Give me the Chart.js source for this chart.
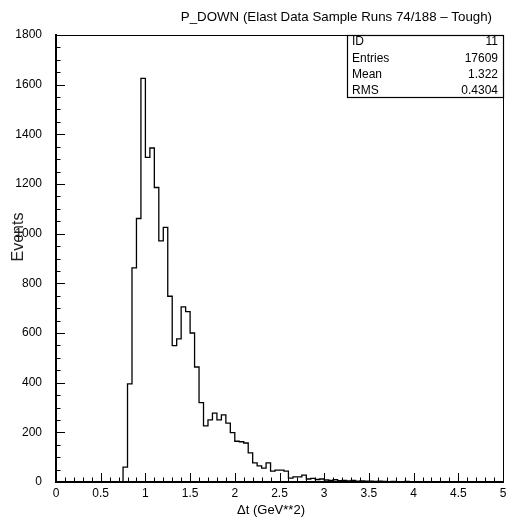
<!DOCTYPE html>
<html>
<head>
<meta charset="utf-8">
<script src="https://cdn.jsdelivr.net/npm/chart.js@4/dist/chart.umd.min.js"></script>
<style>
  html, body { margin: 0; padding: 0; background: #fff; }
  canvas { display: block; }
</style>
</head>
<body>
<canvas id="histo" width="506" height="519"></canvas>
<script>
// histogramme P_DOWN : 100 bins de 0.05 entre 0 et 5
const xMin = 0;
const xMax = 5;
const binWidth = 0.05;
const counts = [
  0, 0, 0, 0, 0, 0, 0, 0, 0, 0,            // 0.00 - 0.45
  0, 0, 0, 0, 0, 60, 395, 862, 1061, 1625, // 0.50 - 0.95
  1307, 1345, 1186, 971, 1025, 748, 549, 576, 705, 686,   // 1.00 - 1.45
  600, 463, 320, 226, 250, 277, 250, 270, 237, 199,       // 1.50 - 1.95
  164, 162, 157, 117, 77, 65, 56, 77, 44, 48,             // 2.00 - 2.45
  48, 44, 16, 21, 21, 28, 12, 15, 10, 12,                 // 2.50 - 2.95
  8, 6, 9, 5, 6, 4, 6, 3, 4, 3,                           // 3.00 - 3.45
  3, 2, 3, 2, 1, 2, 1, 1, 2, 1,                           // 3.50 - 3.95
  1, 0, 1, 1, 0, 1, 0, 0, 1, 0,                           // 4.00 - 4.45
  0, 1, 0, 0, 0, 0, 1, 0, 0, 0                            // 4.50 - 4.95
];
const yTicks = [0, 200, 400, 600, 800, 1000, 1200, 1400, 1600, 1800];
const xTicks = [0, 0.5, 1, 1.5, 2, 2.5, 3, 3.5, 4, 4.5, 5];

const titre = "P_DOWN (Elast Data Sample Runs 74/188 \u2013 Tough)";
const xTitre = "\u0394t (GeV**2)";
const yTitre = "Events";
const statNoms = ["ID", "Entries", "Mean", "RMS"];
const statVals = ["11", "17609", "1.322", "0.4304"];

const police = "'Liberation Sans', Arial, sans-serif";

// points aux bords gauches des bins + fermeture a droite
let points = counts.map((c, i) => ({ x: xMin + i * binWidth, y: c }));
points.push({ x: xMax, y: 0 });

// petits traits vers l'interieur, cadre, boite de stats et textes
const decorPAW = {
  id: 'decorPAW',
  afterDraw(chart) {
    const ctx = chart.ctx;
    const a = chart.chartArea;
    const sx = chart.scales.x, sy = chart.scales.y;
    ctx.save();
    ctx.strokeStyle = '#000';
    ctx.lineWidth = 1;

    // cadre haut et droite
    ctx.beginPath();
    ctx.moveTo(a.left, a.top + 0.5);
    ctx.lineTo(a.right + 0.5, a.top + 0.5);
    ctx.lineTo(a.right + 0.5, a.bottom);
    ctx.stroke();

    // ticks axe x (mineurs tous les 0.1)
    ctx.beginPath();
    for (let k = 0; k <= 50; k++) {
      const v = k / 10;
      const px = Math.round(sx.getPixelForValue(v)) + 0.5;
      const len = (k % 5 === 0) ? 9 : 4.5;
      ctx.moveTo(px, a.bottom);
      ctx.lineTo(px, a.bottom - len);
    }
    // ticks axe y (mineurs tous les 50)
    for (let v = 0; v <= 1800; v += 50) {
      const py = Math.round(sy.getPixelForValue(v)) + 0.5;
      const len = (v % 200 === 0) ? 9 : 4.5;
      ctx.moveTo(a.left, py);
      ctx.lineTo(a.left + len, py);
    }
    ctx.stroke();

    // boite de statistiques
    const bx = 347, bw = a.right - bx, by = a.top, bh = 62;
    ctx.fillStyle = '#fff';
    ctx.fillRect(bx, by, bw, bh);
    ctx.lineWidth = 1.2;
    ctx.strokeRect(bx + 0.5, by + 0.5, bw, bh);
    ctx.fillStyle = '#000';
    ctx.font = '12px ' + police;
    ctx.textBaseline = 'middle';
    statNoms.forEach((n, i) => {
      const yy = by + 7 + i * 16.3;
      ctx.textAlign = 'left';
      ctx.fillText(n, bx + 5, yy);
      ctx.textAlign = 'right';
      ctx.fillText(statVals[i], a.right - 5, yy);
    });

    // titres
    ctx.font = '13.3px ' + police;
    ctx.textAlign = 'right';
    ctx.fillText(titre, 492, 17);
    ctx.font = '13px ' + police;
    ctx.textAlign = 'center';
    ctx.fillText(xTitre, 271, 510);

    ctx.save();
    ctx.translate(19, 237);
    ctx.rotate(-Math.PI / 2);
    ctx.font = '16px ' + police;
    ctx.fillStyle = '#222';
    ctx.fillText(yTitre, 0, 0);
    ctx.restore();

    ctx.restore();
  }
};

new Chart(document.getElementById('histo'), {
  type: 'line',
  data: {
    datasets: [{
      data: points,
      stepped: 'before',
      borderColor: '#000',
      borderWidth: 1.3,
      pointRadius: 0,
      fill: false
    }]
  },
  options: {
    responsive: false,
    animation: false,
    devicePixelRatio: 1,
    layout: { padding: { top: 35, right: 3, left: 0, bottom: 0 } },
    plugins: {
      legend: { display: false },
      tooltip: { enabled: false },
      title: { display: false }
    },
    scales: {
      x: {
        type: 'linear',
        min: xMin,
        max: xMax,
        afterFit: s => { s.height = 37; s.paddingRight = 0; s.paddingLeft = 0; },
        afterBuildTicks: s => { s.ticks = xTicks.map(v => ({ value: v })); },
        grid: { display: false, drawTicks: false },
        border: { display: true, color: '#000', width: 2 },
        ticks: {
          padding: 4,
          color: '#000',
          font: { family: police, size: 12 },
          maxRotation: 0,
          autoSkip: false,
          callback: v => String(v)
        }
      },
      y: {
        min: 0,
        max: 1800,
        afterFit: s => { s.width = 56; },
        afterBuildTicks: s => { s.ticks = yTicks.map(v => ({ value: v })); },
        grid: { display: false, drawTicks: false },
        border: { display: true, color: '#000', width: 2 },
        ticks: {
          padding: 14,
          color: '#000',
          font: { family: police, size: 12 },
          autoSkip: false,
          callback: v => String(v)
        }
      }
    }
  },
  plugins: [decorPAW]
});
</script>
</body>
</html>
